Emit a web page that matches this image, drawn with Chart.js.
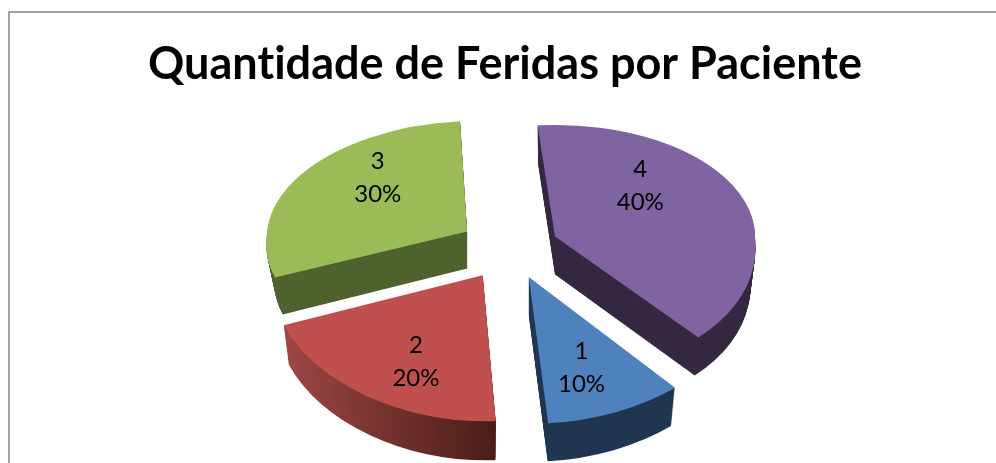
<!DOCTYPE html>
<html>
<head>
<meta charset="utf-8">
<style>html,body{margin:0;padding:0;background:#fff;overflow:hidden}canvas{display:block}</style>
<script src="https://cdn.jsdelivr.net/npm/chart.js@4"></script>
</head>
<body>
<canvas id="c" width="996" height="463"></canvas>
<script>
// ---- data ----
const categories = ['1', '2', '3', '4'];
const seriesValues = [10, 20, 30, 40];
const percentLabels = ['10%', '20%', '30%', '40%'];
const titleText = 'Quantidade de Feridas por Paciente';

// ---- styling ----
const faceColors = ['#4f81bd', '#c0504d', '#9bbb59', '#8064a2'];
const wallColors = [['#1f3550', '#1f3550'], ['#a34a47', '#491c18'], ['#4f612c', '#4f612c'], ['#33283f', '#33283f']];
const drawOrder = [2, 3, 1, 0];
const explode = [48, 53, 50, 48.9], explodeTilt = [0.62, 0.565, 0.70, 0.68], pieRadius = 200;
const wallDepth = [38, 39, 37, 38];
const wallNarrowing = [0.025, 0.025, 0.04, 0.025];
// per-slice 2D view matrices [c, b, k, a] imitating the tilted perspective
const viewTop = [null, null, [1, 0, -0.052, 0.553], [1, 0, 0, 0.558]];
const viewBottom = [[1.115, 0, 0, 0.735], [1.0696, 0.0378, -0.0281, 0.73], [1, 0, -0.103, 0.59], [1, 0, 0.08, 0.669]];
const labelRadial = [0.66, 0.675, 0.68, 0.625];
const labelAngleShift = [2, -5, 15, -24];
const labelLineGap = 33;
const pieShiftX = 5;

function midAngle(el) { return (el.startAngle + el.endAngle) / 2; }
function apex(el, i) {
  const m = midAngle(el);
  return { x: el.x + pieShiftX + Math.cos(m) * explode[i], y: el.y + Math.sin(m) * explode[i] * explodeTilt[i] };
}
function drawPart(ctx, el, A, mat, clip, narrow, dy) {
  ctx.save();
  ctx.transform(mat[0] * narrow, mat[1], mat[2] * narrow, mat[3], A.x, A.y + dy);
  ctx.translate(-el.x, -el.y);
  if (clip) {
    ctx.beginPath();
    if (clip === 'top') ctx.rect(el.x - 1000, el.y - 1000, 2000, 1000.6);
    else ctx.rect(el.x - 1000, el.y - 0.6, 2000, 1000);
    ctx.clip();
  }
  el.draw(ctx);
  ctx.restore();
}
function drawSlice(ctx, el, i, narrow, dy) {
  const A = apex(el, i);
  if (viewTop[i]) {
    drawPart(ctx, el, A, viewTop[i], 'top', narrow, dy);
    drawPart(ctx, el, A, viewBottom[i], 'bottom', narrow, dy);
  } else {
    drawPart(ctx, el, A, viewBottom[i], null, narrow, dy);
  }
}
const pie3d = {
  id: 'pie3d',
  beforeDraw(chart) {
    const ctx = chart.ctx;
    ctx.letterSpacing = '0.01px';
    ctx.save();
    ctx.strokeStyle = '#868686';
    ctx.lineWidth = 1.5;
    ctx.beginPath();
    ctx.moveTo(9, chart.height);
    ctx.lineTo(9, 12);
    ctx.lineTo(chart.width, 12);
    ctx.stroke();
    ctx.restore();
  },
  beforeDatasetDraw(chart, args) {
    const ctx = chart.ctx;
    const arcs = args.meta.data;
    drawOrder.forEach(i => {
      const el = arcs[i];
      const saved = el.options;
      const grad = ctx.createLinearGradient(el.x - pieRadius, 0, el.x + 20, 0);
      grad.addColorStop(0, wallColors[i][0]);
      grad.addColorStop(1, wallColors[i][1]);
      el.options = Object.create(saved, { backgroundColor: { value: grad } });
      for (let d = wallDepth[i]; d >= 1; d--) {
        drawSlice(ctx, el, i, 1 - wallNarrowing[i] * d / wallDepth[i], d);
      }
      el.options = saved;
      drawSlice(ctx, el, i, 1, 0);
    });
    return false;
  },
  afterDatasetsDraw(chart) {
    const ctx = chart.ctx;
    const arcs = chart.getDatasetMeta(0).data;
    ctx.save();
    ctx.fillStyle = '#000';
    ctx.font = '24px Lato';
    ctx.textAlign = 'center';
    ctx.textBaseline = 'middle';
    arcs.forEach((el, i) => {
      const A = apex(el, i);
      const ang = midAngle(el) + labelAngleShift[i] * Math.PI / 180;
      const x = Math.cos(ang) * pieRadius * labelRadial[i];
      const y = Math.sin(ang) * pieRadius * labelRadial[i];
      const mat = (y < 0 && viewTop[i]) ? viewTop[i] : viewBottom[i];
      const px = A.x + mat[0] * x + mat[2] * y;
      const py = A.y + mat[1] * x + mat[3] * y;
      ctx.fillText(categories[i], px, py - labelLineGap / 2);
      ctx.fillText(percentLabels[i], px, py + labelLineGap / 2);
    });
    ctx.restore();
  }
};

new Chart(document.getElementById('c'), {
  type: 'pie',
  data: {
    labels: categories,
    datasets: [{ data: seriesValues, backgroundColor: faceColors, borderWidth: 0 }]
  },
  options: {
    responsive: false,
    animation: false,
    rotation: 139,
    radius: pieRadius,
    layout: { padding: { left: 14, right: 0, top: 0, bottom: 65 } },
    plugins: {
      legend: { display: false },
      tooltip: { enabled: false },
      title: {
        display: true,
        text: titleText,
        color: '#000',
        font: { family: 'Lato', size: 45, weight: 'bold' },
        padding: { top: 37, bottom: 10 }
      }
    }
  },
  plugins: [pie3d]
});
</script>
</body>
</html>
